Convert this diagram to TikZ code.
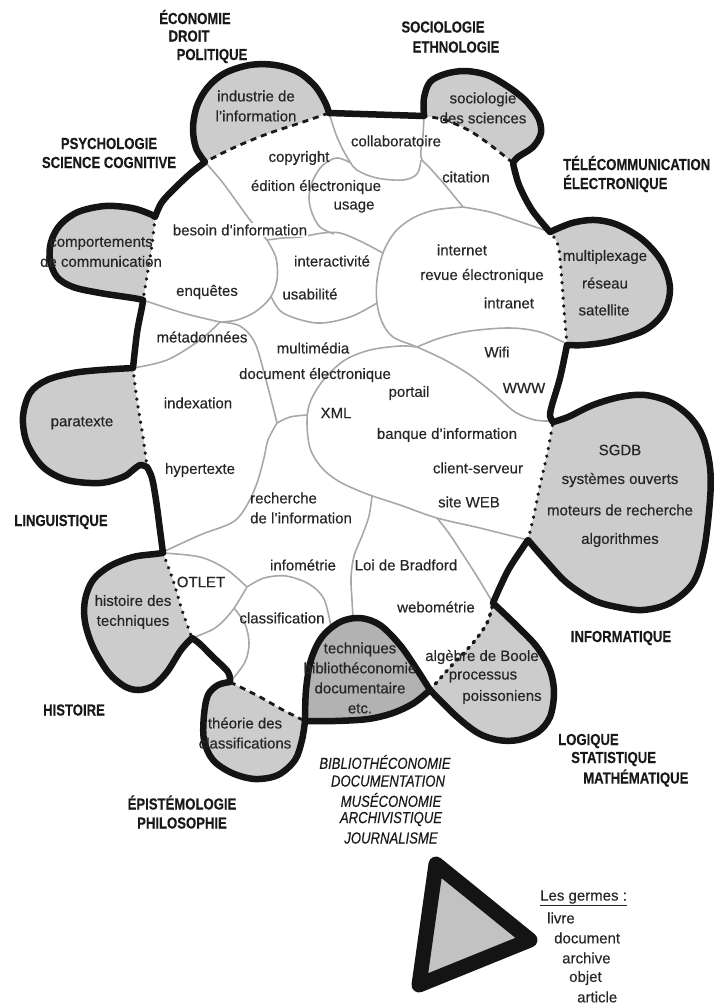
\documentclass[tikz,border=0pt]{standalone}
\usepackage{fontspec}
\setmainfont{Liberation Sans}
\newfontfamily\bodyfont[FakeBold=0.35]{Liberation Sans}
\newfontfamily\labfont[FakeStretch=0.82, FakeBold=0.3]{Liberation Sans}
\definecolor{lobe}{gray}{0.80}
\definecolor{lobedark}{gray}{0.70}
\definecolor{trifill}{gray}{0.76}
\definecolor{thingray}{gray}{0.66}
\definecolor{txt}{gray}{0.15}
\begin{document}
\begin{tikzpicture}[x=1pt,y=-1pt,
  outline/.style={line width=6.5pt, line join=round, line cap=round, draw=black!92},
  thinline/.style={line width=1.6pt, draw=thingray},
  dashsep/.style={line width=2.8pt, draw=black!90, dash pattern=on 6pt off 5pt},
  dotsep/.style={line width=3.4pt, draw=black!90, line cap=round, dash pattern=on 0.3pt off 7.5pt},
  lbl/.style={font=\bodyfont\fontsize{15}{20}\selectfont, text=txt, align=center, inner sep=1pt},
  cat/.style={font=\labfont\bfseries\fontsize{16}{19}\selectfont, text=black!90, align=center, inner sep=0pt},
  ital/.style={font=\labfont\itshape\fontsize{16}{19}\selectfont, text=black!90, inner sep=0pt},
  smooth, tension=0.55]
\useasboundingbox (0,0) rectangle (721,1005);

% ---------- gray lobes ----------
\fill[lobe] plot[smooth] coordinates {(205,162) (196,148) (193,128) (197,106) (208,87) (225,73) (250,65) (275,65) (298,72) (315,86) (325,102) (329,113)}
  -- plot[smooth] coordinates {(329,113) (300,123) (267,134) (233,148) (205,162)} -- cycle;
\fill[lobe] plot[smooth] coordinates {(424,116) (424,98) (430,82) (445,74) (465,71) (487,75) (507,86) (525,100) (538,117) (541,133) (533,147) (518,157) (513,163)}
  -- plot[smooth] coordinates {(513,163) (493,147) (470,131) (445,120) (424,116)} -- cycle;
\fill[lobe] plot[smooth] coordinates {(550,232) (572,223) (595,220) (618,225) (643,240) (662,262) (670,288) (664,312) (645,330) (612,341) (585,345) (567,345)}
  -- plot[smooth] coordinates {(567,345) (564,310) (561,270) (558,245) (550,232)} -- cycle;
\fill[lobe] plot[smooth] coordinates {(553,422) (568,417) (593,405) (620,397) (645,395) (670,402) (690,417) (703,437) (710,467) (710,500) (704,550) (693,583) (670,603) (643,610) (617,607) (593,600) (567,583) (547,562) (528,540)}
  -- plot[smooth] coordinates {(528,540) (534,515) (540,485) (547,455) (553,422)} -- cycle;
\fill[lobe] plot[smooth] coordinates {(493,603) (517,626) (537,647) (550,670) (554,693) (550,717) (538,732) (518,740) (498,740) (478,733) (456,716) (430,690)}
  -- plot[smooth] coordinates {(430,690) (453,664) (473,643) (487,623) (493,603)} -- cycle;
\fill[lobedark] plot[smooth] coordinates {(430,690) (414,703) (393,713) (368,719) (335,721) (305,721)}
  -- plot[smooth] coordinates {(305,721) (306,690) (311,660) (322,637) (340,622) (360,618) (380,625) (400,645) (416,668) (430,690)} -- cycle;
\fill[lobe] plot[smooth] coordinates {(305,721) (302,740) (295,760) (278,775) (255,779) (232,773) (213,760) (204,740) (204,715) (208,695) (218,685) (230,682)}
  -- plot[smooth] coordinates {(230,682) (260,697) (283,710) (305,721)} -- cycle;
\fill[lobe] plot[smooth] coordinates {(192,638) (181,650) (167,672) (153,686) (138,690) (124,686) (108,672) (93,647) (85,622) (85,600) (93,580) (110,566) (133,557) (155,554) (163,553)}
  -- plot[smooth] coordinates {(163,553) (173,580) (182,610) (192,638)} -- cycle;
\fill[lobe] plot[smooth] coordinates {(147,467) (140,465) (133,470) (123,477) (100,483) (67,480) (43,467) (27,443) (23,417) (30,393) (47,380) (73,373) (100,370) (133,368)}
  -- plot[smooth] coordinates {(133,368) (137,400) (143,437) (147,467)} -- cycle;
\fill[lobe] plot[smooth] coordinates {(143,300) (133,298) (100,293) (73,287) (57,277) (50,260) (51,242) (60,225) (78,212) (105,206) (132,208) (150,214) (155,217)}
  -- plot[smooth] coordinates {(155,217) (152,245) (148,270) (143,300)} -- cycle;

% ---------- thin gray partition lines ----------
\draw[thinline] plot coordinates {(205,162) (223,183) (250,220) (267,240)};
\draw[thinline] plot coordinates {(267,240) (283,238) (300,237) (323,233) (340,233) (360,241) (383,253)};
\draw[thinline] plot coordinates {(267,240) (276,258) (277,280) (270,298) (255,312) (237,320) (220,322)};
\draw[thinline] plot coordinates {(271,296) (283,313) (317,323) (350,317) (377,303)};
\draw[thinline] plot coordinates {(143,300) (183,313) (220,322)};
\draw[thinline] plot coordinates {(133,368) (167,360) (200,340) (220,322)};
\draw[thinline] plot coordinates {(220,322) (240,326) (255,343) (266,380) (277,423)};
\draw[thinline] plot coordinates {(277,423) (290,417) (307,415)};
\draw[thinline] plot coordinates {(277,423) (268,440) (264,458) (257,483) (247,505) (233,522) (200,535) (163,552)};
\draw[thinline] plot coordinates {(417,347) (400,346) (370,350) (345,360) (325,378) (311,400) (307,420) (310,448) (322,468) (340,482) (367,494) (400,505) (437,518) (480,528) (528,540)};
\draw[thinline] plot coordinates {(417,347) (440,338) (470,331) (510,328) (540,332) (565,343)};
\draw[thinline] plot coordinates {(463,207) (435,210) (413,218) (395,232) (383,253) (377,280) (377,303) (382,322) (393,337) (417,347) (445,360) (470,375) (493,393) (515,412) (535,420) (553,421)};
\draw[thinline] plot coordinates {(463,207) (490,212) (515,220) (550,232)};
\draw[thinline] plot coordinates {(424,116) (423,135) (421,157) (430,168) (445,185) (463,207)};
\draw[thinline] plot coordinates {(329,113) (337,137) (347,157) (357,170) (377,178) (403,180) (417,174) (421,160)};
\draw[thinline] plot coordinates {(351,163) (337,158) (323,165) (313,180) (309,197) (312,213) (320,227) (334,234)};
\draw[thinline] plot coordinates {(372,496) (369,516) (362,536) (354,556) (351,578) (352,600) (353,618)};
\draw[thinline] plot coordinates {(437,518) (448,532) (462,553) (478,578) (493,603)};
\draw[thinline] plot coordinates {(163,553) (200,557) (226,569) (247,587)};
\draw[thinline] plot coordinates {(247,587) (264,578) (286,576) (309,584) (324,599) (331,627)};
\draw[thinline] plot coordinates {(192,638) (215,628) (232,611) (247,587)};
\draw[thinline] plot coordinates {(234,608) (245,624) (249,643) (245,662) (231,681)};

% ---------- dashed / dotted lobe separators ----------
\draw[dashsep] plot coordinates {(329,113) (300,123) (267,134) (233,148) (205,162)};
\draw[dashsep] plot coordinates {(513,163) (493,147) (470,131) (445,120) (424,116)};
\draw[dotsep] plot coordinates {(567,345) (564,310) (561,270) (558,245) (550,232)};
\draw[dotsep] plot coordinates {(528,540) (534,515) (540,485) (547,455) (553,422)};
\draw[dotsep, dash pattern=on 2pt off 6pt] plot coordinates {(430,690) (453,664) (473,643) (487,623) (493,603)};
\draw[dashsep] plot coordinates {(230,682) (260,697) (283,710) (305,721)};
\draw[dotsep] plot coordinates {(163,553) (173,580) (182,610) (192,638)};
\draw[dotsep] plot coordinates {(133,368) (137,400) (143,437) (147,467)};
\draw[dotsep] plot coordinates {(155,217) (152,245) (148,270) (143,300)};

% ---------- thick outline ----------
\draw[outline] plot[smooth] coordinates {(205,162) (196,148) (193,128) (197,106) (208,87) (225,73) (250,65) (275,65) (298,72) (315,86) (325,102) (329,113)}
 -- (424,116)
 -- plot[smooth] coordinates {(424,116) (424,98) (430,82) (445,74) (465,71) (487,75) (507,86) (525,100) (538,117) (541,133) (533,147) (518,157) (513,163)}
 -- plot[smooth] coordinates {(513,163) (519,185) (532,210) (550,232)}
 -- plot[smooth] coordinates {(550,232) (572,223) (595,220) (618,225) (643,240) (662,262) (670,288) (664,312) (645,330) (612,341) (585,345) (567,345)}
 -- plot[smooth] coordinates {(567,345) (560,378) (552,405) (550,416) (553,422)}
 -- plot[smooth] coordinates {(553,422) (568,417) (593,405) (620,397) (645,395) (670,402) (690,417) (703,437) (710,467) (710,500) (704,550) (693,583) (670,603) (643,610) (617,607) (593,600) (567,583) (547,562) (528,540)}
 -- plot[smooth] coordinates {(528,540) (510,567) (500,587) (493,603)}
 -- plot[smooth] coordinates {(493,603) (517,626) (537,647) (550,670) (554,693) (550,717) (538,732) (518,740) (498,740) (478,733) (456,716) (430,690)}
 -- plot[smooth] coordinates {(430,690) (414,703) (393,713) (368,719) (335,721) (305,721)}
 -- plot[smooth] coordinates {(305,721) (302,740) (295,760) (278,775) (255,779) (232,773) (213,760) (204,740) (204,715) (208,695) (218,685) (230,682)}
 -- plot[smooth] coordinates {(230,682) (228,672) (213,657) (200,644) (192,638)}
 -- plot[smooth] coordinates {(192,638) (181,650) (167,672) (153,686) (138,690) (124,686) (108,672) (93,647) (85,622) (85,600) (93,580) (110,566) (133,557) (155,554) (163,553)}
 -- plot[smooth] coordinates {(163,553) (160,530) (156,500) (152,478) (147,467)}
 -- plot[smooth] coordinates {(147,467) (140,465) (133,470) (123,477) (100,483) (67,480) (43,467) (27,443) (23,417) (30,393) (47,380) (73,373) (100,370) (133,368)}
 -- plot[smooth] coordinates {(133,368) (137,333) (142,307) (143,300)}
 -- plot[smooth] coordinates {(143,300) (133,298) (100,293) (73,287) (57,277) (50,260) (51,242) (60,225) (78,212) (105,206) (132,208) (150,214) (155,217)}
 -- plot[smooth] coordinates {(155,217) (162,202) (176,187) (191,173) (205,162)}
 -- cycle;
\draw[outline] plot[smooth] coordinates {(305,721) (306,690) (311,660) (322,637) (340,622) (360,618) (380,625) (400,645) (416,668) (430,690)};

% ---------- triangle ----------
\draw[line width=15pt, line join=round, draw=black!92, fill=trifill] (436,864) -- (530,940) -- (419,985) -- cycle;

% ---------- discipline labels ----------
\node[cat] (eco) at (195,17) {ÉCONOMIE};
\node[cat] (droit) at (189,36) {DROIT};
\node[cat] (poli) at (212,56) {POLITIQUE};
\node[cat] (soc) at (443,27) {SOCIOLOGIE};
\node[cat] (ethno) at (456,47) {ETHNOLOGIE};
\node[cat] (psy) at (109,153) {PSYCHOLOGIE\\SCIENCE COGNITIVE};
\node[cat, anchor=west, align=left] (tele) at (563,174) {TÉLÉCOMMUNICATION\\ÉLECTRONIQUE};
\node[cat] (ling) at (61,522) {LINGUISTIQUE};
\node[cat] (hist) at (74,710) {HISTOIRE};
\node[cat] (info) at (621,638) {INFORMATIQUE};
\node[cat, anchor=west] (logi) at (558,741) {LOGIQUE};
\node[cat, anchor=west] (stat) at (571,759) {STATISTIQUE};
\node[cat, anchor=west] (math) at (583,778) {MATHÉMATIQUE};
\node[cat] (epis) at (182,812) {ÉPISTÉMOLOGIE\\PHILOSOPHIE};
\node[ital] (bib) at (385,762) {BIBLIOTHÉCONOMIE};
\node[ital] (doc) at (388,781) {DOCUMENTATION};
\node[ital] (mus) at (391,800) {MUSÉCONOMIE};
\node[ital] (arch) at (391,819) {ARCHIVISTIQUE};
\node[ital] (jour) at (391,838) {JOURNALISME};

% ---------- inner labels ----------
\node[lbl] (ind) at (256,106) {industrie de\\l’information};
\node[lbl] (socs) at (483,108) {sociologie\\des sciences};
\node[lbl] (collab) at (396,141) {collaboratoire};
\node[lbl] (copy) at (299,158) {copyright};
\node[lbl] (edit) at (316,187) {édition électronique};
\node[lbl] (usage) at (354,207) {usage};
\node[lbl] (cita) at (466,177) {citation};
\node[lbl, fill=white] (besoin) at (240,230) {besoin d’information};
\node[lbl] (inter) at (332,261) {interactivité};
\node[lbl] (usab) at (310,294) {usabilité};
\node[lbl] (enq) at (207,292) {enquêtes};
\node[lbl] (comp) at (101,252) {comportements\\de communication};
\node[lbl] (internet) at (462,250) {internet};
\node[lbl] (revue) at (482,276) {revue électronique};
\node[lbl] (intra) at (509,303) {intranet};
\node[lbl] (multi) at (605,257) {multiplexage};
\node[lbl] (reseau) at (605,283) {réseau};
\node[lbl] (sat) at (604,310) {satellite};
\node[lbl] (wifi) at (497,352) {Wifi};
\node[lbl] (www) at (524,388) {WWW};
\node[lbl] (meta) at (202,337) {métadonnées};
\node[lbl] (mm) at (313,348) {multimédia};
\node[lbl] (docel) at (315,375) {document électronique};
\node[lbl] (portail) at (409,393) {portail};
\node[lbl] (index) at (198,403) {indexation};
\node[lbl] (xml) at (336,413) {XML};
\node[lbl] (para) at (82,423) {paratexte};
\node[lbl] (banque) at (447,435) {banque d’information};
\node[lbl] (client) at (478,468) {client-serveur};
\node[lbl] (site) at (469,502) {site WEB};
\node[lbl] (sgdb) at (620,450) {SGDB};
\node[lbl] (sysou) at (620,480) {systèmes ouverts};
\node[lbl] (moteur) at (620,510) {moteurs de recherche};
\node[lbl] (algo) at (620,540) {algorithmes};
\node[lbl] (hyper) at (200,470) {hypertexte};
\node[lbl, anchor=west, align=left] (rech) at (249,508) {recherche\\de l’information};
\node[lbl] (infom) at (303,565) {infométrie};
\node[lbl] (bradford) at (406,565) {Loi de Bradford};
\node[lbl] (webo) at (436,607) {webométrie};
\node[lbl] (otlet) at (201,582) {OTLET};
\node[lbl] (histtech) at (133,612) {histoire des\\techniques};
\node[lbl] (classif) at (282,618) {classification};
\node[lbl] (techbib) at (360,678) {techniques\\bibliothéconomie\\documentaire\\etc.};
\node[lbl] (boole) at (482,657) {algèbre de Boole};
\node[lbl] (proc) at (483,677) {processus};
\node[lbl] (poisson) at (502,697) {poissoniens};
\node[lbl] (theorie) at (245,733) {théorie des\\classifications};

% ---------- legend ----------
\node[lbl, anchor=west] (germes) at (539,898) {\underline{Les germes :}};
\node[lbl, anchor=west] (livre) at (546,918) {livre};
\node[lbl, anchor=west] (docu) at (553,938) {document};
\node[lbl, anchor=west] (archv) at (561,958) {archive};
\node[lbl, anchor=west] (objet) at (568,978) {objet};
\node[lbl, anchor=west] (artic) at (576,997) {article};
\end{tikzpicture}
\end{document}
